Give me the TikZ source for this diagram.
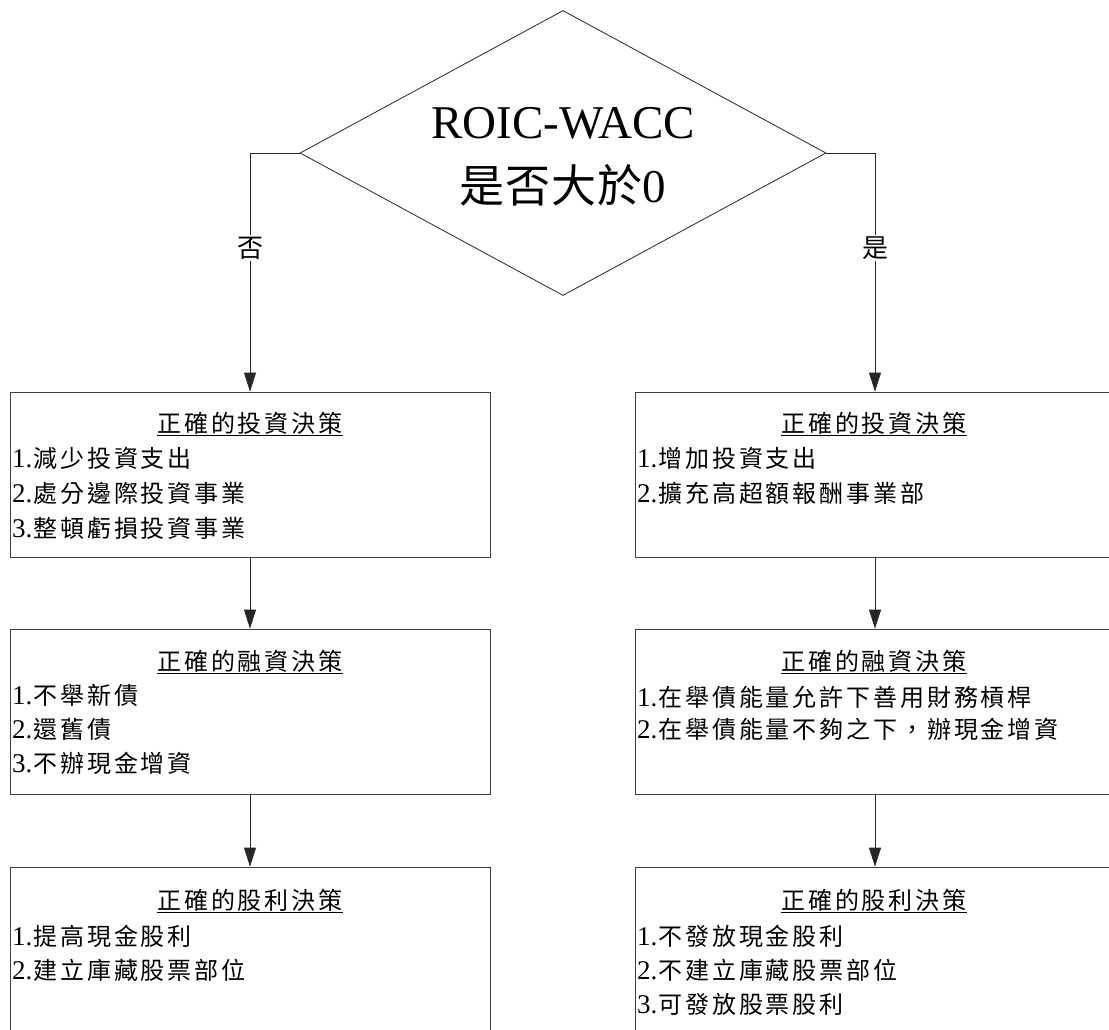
\documentclass[tikz,border=0pt]{standalone}
\usepackage{fontspec}
\setmainfont{Liberation Serif}
\newfontfamily\cjk[LetterSpace=12]{Noto Sans CJK TC}
\newfontfamily\cjkbig[LetterSpace=2]{Noto Sans CJK TC}
\newfontfamily\cjkplain{Noto Sans CJK TC}
\usetikzlibrary{shapes.geometric,arrows.meta}
\newcommand{\itm}[2]{{\fontsize{27}{30}\selectfont #1}\hspace{1pt}{\cjk\fontsize{24}{30}\selectfont #2}}
\newcommand{\ttl}[1]{\underline{\cjk\fontsize{24}{30}\selectfont #1}}
\tikzset{
  box/.style={draw=black!75, line width=0.8pt, rectangle, inner sep=0pt},
  dia/.style={draw=black!85, line width=0.8pt, diamond, aspect=1.85, inner sep=0pt, minimum width=526pt, minimum height=285pt},
  arr/.style={draw=black!85, line width=0.8pt, -{Triangle[length=19pt,width=12pt]}},
  item/.style={anchor=west, inner sep=0pt},
  title/.style={anchor=center, inner sep=0pt},
  lbl/.style={fill=white, inner sep=2pt, font=\cjkplain\fontsize{26}{28}\selectfont}
}
\begin{document}
\begin{tikzpicture}[x=1pt,y=-1pt]
\path[use as bounding box, clip] (0,0) rectangle (1109,1029);
% decision
\node[dia] (D) at (563,153) {};
\node[anchor=base, inner sep=0pt] (t1) at (563,138) {\fontsize{47}{50}\selectfont ROIC-WACC};
\node[anchor=base, inner sep=0pt] (t2) at (563,202) {{\cjkbig\fontsize{45}{50}\selectfont 是否大於}{\fontsize{47}{50}\selectfont 0}};
% boxes
\node[box, minimum width=480pt, minimum height=165pt] (L1) at (250,474.5) {};
\node[box, minimum width=480pt, minimum height=165pt] (L2) at (250,711.5) {};
\node[box, minimum width=480pt, minimum height=185pt] (L3) at (250,959.5) {};
\node[box, minimum width=480pt, minimum height=165pt] (R1) at (875,474.5) {};
\node[box, minimum width=480pt, minimum height=165pt] (R2) at (875,711.5) {};
\node[box, minimum width=480pt, minimum height=185pt] (R3) at (875,959.5) {};
% connectors
\draw[arr] (D.west) -| (L1.north);
\draw[arr] (D.east) -| (R1.north);
\draw[arr] (L1.south) -- (L2.north);
\draw[arr] (L2.south) -- (L3.north);
\draw[arr] (R1.south) -- (R2.north);
\draw[arr] (R2.south) -- (R3.north);
\node[lbl] (no) at (250,248) {否};
\node[lbl] (yes) at (875,248) {是};
% left texts
\node[title] (l1t) at (250,424) {\ttl{正確的投資決策}};
\node[item] (l1a) at (12,458) {\itm{1.}{減少投資支出}};
\node[item] (l1b) at (12,493) {\itm{2.}{處分邊際投資事業}};
\node[item] (l1c) at (12,528) {\itm{3.}{整頓虧損投資事業}};
\node[title] (l2t) at (250,662) {\ttl{正確的融資決策}};
\node[item] (l2a) at (12,695) {\itm{1.}{不舉新債}};
\node[item] (l2b) at (12,729) {\itm{2.}{還舊債}};
\node[item] (l2c) at (12,763) {\itm{3.}{不辦現金增資}};
\node[title] (l3t) at (250,901) {\ttl{正確的股利決策}};
\node[item] (l3a) at (12,936) {\itm{1.}{提高現金股利}};
\node[item] (l3b) at (12,970) {\itm{2.}{建立庫藏股票部位}};
% right texts
\node[title] (r1t) at (874,424) {\ttl{正確的投資決策}};
\node[item] (r1a) at (637,458) {\itm{1.}{增加投資支出}};
\node[item] (r1b) at (637,493) {\itm{2.}{擴充高超額報酬事業部}};
\node[title] (r2t) at (874,662) {\ttl{正確的融資決策}};
\node[item] (r2a) at (637,697) {\itm{1.}{在舉債能量允許下善用財務槓桿}};
\node[item] (r2b) at (637,729) {\itm{2.}{在舉債能量不夠之下，辦現金增資}};
\node[title] (r3t) at (874,901) {\ttl{正確的股利決策}};
\node[item] (r3a) at (637,936) {\itm{1.}{不發放現金股利}};
\node[item] (r3b) at (637,970) {\itm{2.}{不建立庫藏股票部位}};
\node[item] (r3c) at (637,1004) {\itm{3.}{可發放股票股利}};
\end{tikzpicture}
\end{document}
